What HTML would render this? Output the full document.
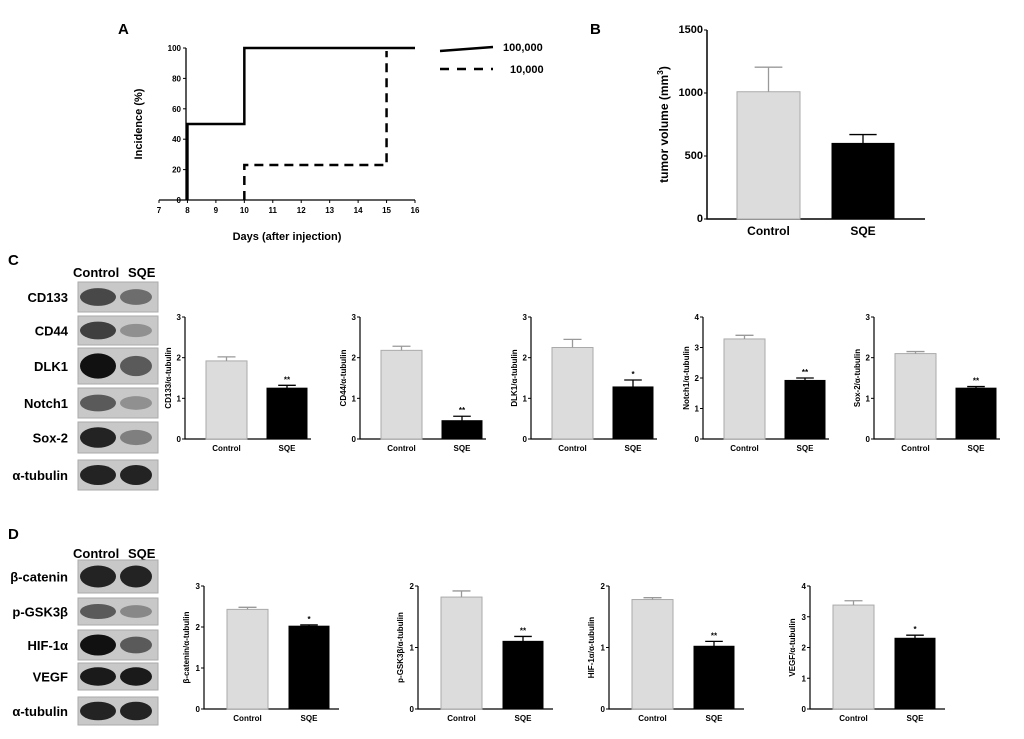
<!DOCTYPE html>
<html><head><meta charset="utf-8"><style>
body{margin:0;background:#fff}
svg{display:block;font-family:"Liberation Sans",Arial,sans-serif}
</style></head><body>
<svg id="fig" width="1024" height="739" viewBox="0 0 1024 739" xmlns="http://www.w3.org/2000/svg">
<g id="pa"></g>
<g id="pb"></g>
<g id="pc"></g>
<g id="pd"></g>
</svg>
<script>
// ---- Panel A data ----
const aDaysHigh = [8, 8, 10, 10, 16];
const aIncHigh = [0, 50, 50, 100, 100];
const aDaysLow = [10, 10, 15, 15];
const aIncLow = [0, 23, 23, 98];
const aXTicks = [7, 8, 9, 10, 11, 12, 13, 14, 15, 16];
const aYTicks = [0, 20, 40, 60, 80, 100];
// ---- Panel B data ----
const bCats = ["Control", "SQE"];
const bVals = [1010, 600];
const bErr = [195, 70];
const bYTicks = [0, 500, 1000, 1500];
// ---- Panel C data ----
const cTitles = ["CD133/α-tubulin", "CD44/α-tubulin", "DLK1/α-tubulin", "Notch1/α-tubulin", "Sox-2/α-tubulin"];
const cControl = [1.92, 2.18, 2.25, 3.28, 2.10];
const cControlErr = [0.10, 0.10, 0.20, 0.12, 0.05];
const cSQE = [1.25, 0.45, 1.28, 1.92, 1.25];
const cSQEErr = [0.07, 0.11, 0.17, 0.08, 0.04];
const cMax = [3, 3, 3, 4, 3];
const cSig = ["**", "**", "*", "**", "**"];
// ---- Panel D data ----
const dTitles = ["β-catenin/α-tubulin", "p-GSK3β/α-tubulin", "HIF-1α/α-tubulin", "VEGF/α-tubulin"];
const dControl = [2.43, 1.82, 1.78, 3.38];
const dControlErr = [0.05, 0.10, 0.03, 0.14];
const dSQE = [2.02, 1.10, 1.02, 2.30];
const dSQEErr = [0.03, 0.08, 0.08, 0.10];
const dMax = [3, 2, 2, 4];
const dSig = ["*", "**", "**", "*"];
// blots
const cBlotLabels = ["CD133", "CD44", "DLK1", "Notch1", "Sox-2", "α-tubulin"];
const cBandCtrl = [0.7, 0.75, 1.0, 0.6, 0.9, 0.9];
const cBandSqe = [0.5, 0.3, 0.6, 0.3, 0.4, 0.9];
const dBlotLabels = ["β-catenin", "p-GSK3β", "HIF-1α", "VEGF", "α-tubulin"];
const dBandCtrl = [0.9, 0.6, 1.0, 0.95, 0.9];
const dBandSqe = [0.9, 0.35, 0.6, 0.95, 0.9];

const NS = "http://www.w3.org/2000/svg";
function mk(parent, tag, attrs, text) {
  const e = document.createElementNS(NS, tag);
  for (const k in attrs) e.setAttribute(k, attrs[k]);
  if (text !== undefined) e.textContent = text;
  parent.appendChild(e);
  return e;
}

// ===== Panel A =====
(function () {
  const g = document.getElementById('pa');
  const x0 = 159, x1 = 415, y0 = 200, y1 = 48;
  const sx = d => x0 + (d - 7) / 9 * (x1 - x0);
  const sy = v => y0 - v / 100 * (y0 - y1);
  let t = mk(g, 'text', {x: 118, y: 34, 'font-size': 15, 'font-weight': 'bold'}, 'A');
  
  
  const ax = mk(g, 'path', {d: `M${x0 + 27},${y1} V${y0} M${x0},${y0} H${x1}`, stroke: '#000', 'stroke-width': 1.3, fill: 'none'});
  
  
  aYTicks.forEach(v => {
    mk(g, 'line', {x1: x0 + 24, x2: x0 + 27, y1: sy(v), y2: sy(v), stroke: '#000'});
    const l = mk(g, 'text', {x: x0 + 22, y: sy(v) + 3, 'font-size': 8, 'text-anchor': 'end', 'font-weight': 'bold'}, v);
    
    
  });
  aXTicks.forEach(d => {
    mk(g, 'line', {x1: sx(d), x2: sx(d), y1: y0, y2: y0 + 3, stroke: '#000'});
    const l = mk(g, 'text', {x: sx(d), y: y0 + 13, 'font-size': 8, 'text-anchor': 'middle', 'font-weight': 'bold'}, d);
    
    
  });
  t = mk(g, 'text', {x: 287, y: 240, 'font-size': 11, 'text-anchor': 'middle', 'font-weight': 'bold'}, 'Days (after injection)');
  
  
  t = mk(g, 'text', {x: 0, y: 0, 'font-size': 11, 'text-anchor': 'middle', 'font-weight': 'bold', transform: 'translate(142,124) rotate(-90)'}, 'Incidence (%)');
  
  
  let p = mk(g, 'polyline', {points: aDaysHigh.map((d, i) => sx(d) + ',' + sy(aIncHigh[i])).join(' '), fill: 'none', stroke: '#000', 'stroke-width': 2.5});
  
  
  p = mk(g, 'polyline', {points: aDaysLow.map((d, i) => sx(d) + ',' + sy(aIncLow[i])).join(' '), fill: 'none', stroke: '#000', 'stroke-width': 2.5, 'stroke-dasharray': '9,6'});
  
  
  p = mk(g, 'line', {x1: 440, x2: 493, y1: 51, y2: 47, stroke: '#000', 'stroke-width': 2.5});
  
  
  p = mk(g, 'text', {x: 503, y: 51, 'font-size': 11, 'font-weight': 'bold'}, '100,000');
  
  
  p = mk(g, 'line', {x1: 440, x2: 493, y1: 69, y2: 69, stroke: '#000', 'stroke-width': 2.5, 'stroke-dasharray': '9,8'});
  
  
  p = mk(g, 'text', {x: 510, y: 73, 'font-size': 11, 'font-weight': 'bold'}, '10,000');
  
  
})();

// ===== Generic bar chart =====
function barChart(g, o) {
  const sy = v => o.y0 - v / o.max * (o.y0 - o.ytop);
  const ax = mk(g, 'path', {d: `M${o.ax},${o.ytop} V${o.y0} H${o.ax + o.len}`, stroke: '#000', 'stroke-width': o.sw || 1.2, fill: 'none'});
  
  
  o.ticks.forEach(v => {
    mk(g, 'line', {x1: o.ax - 3, x2: o.ax, y1: sy(v), y2: sy(v), stroke: '#000'});
    const l = mk(g, 'text', {x: o.ax - 4, y: sy(v) + 3, 'font-size': o.tfs, 'text-anchor': 'end', 'font-weight': 'bold'}, v);
    
    
  });
  o.vals.forEach((v, i) => {
    const [bx0, bx1] = o.bars[i];
    const b = mk(g, 'rect', {x: bx0, y: sy(v), width: bx1 - bx0, height: o.y0 - sy(v), fill: i ? '#000' : '#dcdcdc', stroke: i ? '#000' : '#aaa', 'stroke-width': 1});
    
    
    const cx = (bx0 + bx1) / 2, ye = sy(v + o.err[i]);
    const e = mk(g, 'path', {d: `M${cx},${sy(v)} V${ye} M${cx - (bx1 - bx0) * 0.22},${ye} H${cx + (bx1 - bx0) * 0.22}`, stroke: i ? '#000' : '#999', 'stroke-width': 1.3, fill: 'none'});
    
    
    const l = mk(g, 'text', {x: cx, y: o.y0 + o.lfs + 4, 'font-size': o.lfs, 'text-anchor': 'middle', 'font-weight': 'bold'}, o.cats[i]);
    
    
    if (i && o.sig) {
      const s = mk(g, 'text', {x: cx, y: ye - 3, 'font-size': 8, 'text-anchor': 'middle', 'font-weight': 'bold'}, o.sig);
      
      
    }
  });
  const t = mk(g, 'text', {x: 0, y: 0, 'font-size': o.yfs, 'text-anchor': 'middle', 'font-weight': 'bold', transform: `translate(${o.ytx},${(o.y0 + o.ytop) / 2}) rotate(-90)`}, o.title);
  
  
  if (o.sup) { const s = mk(t, 'tspan', {'baseline-shift': 'super', 'font-size': o.yfs * 0.7}, o.sup); mk(t, 'tspan', {}, ')'); }
}

// ===== Panel B =====
(function () {
  const g = document.getElementById('pb');
  const t = mk(g, 'text', {x: 590, y: 34, 'font-size': 15, 'font-weight': 'bold'}, 'B');
  
  
  barChart(g, {ax: 707, len: 218, y0: 219, ytop: 30, max: 1500, ticks: bYTicks, vals: bVals, err: bErr, cats: bCats,
    bars: [[737, 800], [832, 894]], tfs: 11, lfs: 12, yfs: 12, ytx: 668, title: 'tumor volume (mm', sup: '3', sw: 1.5});
})();

// ===== Blots =====
function blots(g, labels, rows, ctrl, sqe, headerY) {
  const h = mk(g, 'text', {x: 73, y: headerY, 'font-size': 13, 'font-weight': 'bold'}, 'Control');
  
  
  const h2 = mk(g, 'text', {x: 128, y: headerY, 'font-size': 13, 'font-weight': 'bold'}, 'SQE');
  
  
  labels.forEach((lab, i) => {
    const [y0, y1] = rows[i];
    const r = mk(g, 'rect', {x: 78, y: y0, width: 80, height: y1 - y0, fill: '#c8c8c8', stroke: '#aaa'});
    
    
    const cy = (y0 + y1) / 2, bh = (y1 - y0) * 0.35;
    mk(g, 'ellipse', {cx: 98, cy, rx: 18, ry: bh * (0.5 + ctrl[i] * 0.5), fill: '#111', opacity: ctrl[i]});
    mk(g, 'ellipse', {cx: 136, cy, rx: 16, ry: bh * (0.5 + sqe[i] * 0.5), fill: '#111', opacity: sqe[i]});
    const l = mk(g, 'text', {x: 68, y: cy + 5, 'font-size': 13, 'text-anchor': 'end', 'font-weight': 'bold'}, lab);
    
    
  });
}

// ===== Panel C =====
(function () {
  const g = document.getElementById('pc');
  const t = mk(g, 'text', {x: 8, y: 265, 'font-size': 15, 'font-weight': 'bold'}, 'C');
  
  
  blots(g, cBlotLabels, [[282, 312], [316, 345], [348, 384], [388, 418], [422, 453], [460, 490]], cBandCtrl, cBandSqe, 277);
  const axes = [185, 360, 531, 703, 874];
  cTitles.forEach((title, i) => {
    const cg = mk(g, 'g', {});
    
    
    const a = axes[i];
    const ticks = []; for (let k = 0; k <= cMax[i]; k++) ticks.push(k);
    barChart(cg, {ax: a, len: 126, y0: 439, ytop: 317, max: cMax[i], ticks, vals: [cControl[i], cSQE[i]], err: [cControlErr[i], cSQEErr[i]],
      cats: ['Control', 'SQE'], bars: [[a + 21, a + 62], [a + 82, a + 122]], tfs: 8, lfs: 8, yfs: 8, ytx: a - 14, title, sig: cSig[i]});
  });
})();

// ===== Panel D =====
(function () {
  const g = document.getElementById('pd');
  const t = mk(g, 'text', {x: 8, y: 539, 'font-size': 15, 'font-weight': 'bold'}, 'D');
  
  
  blots(g, dBlotLabels, [[560, 593], [598, 625], [630, 660], [663, 690], [697, 725]], dBandCtrl, dBandSqe, 558);
  const axes = [204, 418, 609, 810];
  dTitles.forEach((title, i) => {
    const cg = mk(g, 'g', {});
    
    
    const a = axes[i];
    const ticks = []; for (let k = 0; k <= dMax[i]; k++) ticks.push(k);
    barChart(cg, {ax: a, len: 135, y0: 709, ytop: 586, max: dMax[i], ticks, vals: [dControl[i], dSQE[i]], err: [dControlErr[i], dSQEErr[i]],
      cats: ['Control', 'SQE'], bars: [[a + 23, a + 64], [a + 85, a + 125]], tfs: 8, lfs: 8, yfs: 8, ytx: a - 15, title, sig: dSig[i]});
  });
})();
</script>
</body></html>
